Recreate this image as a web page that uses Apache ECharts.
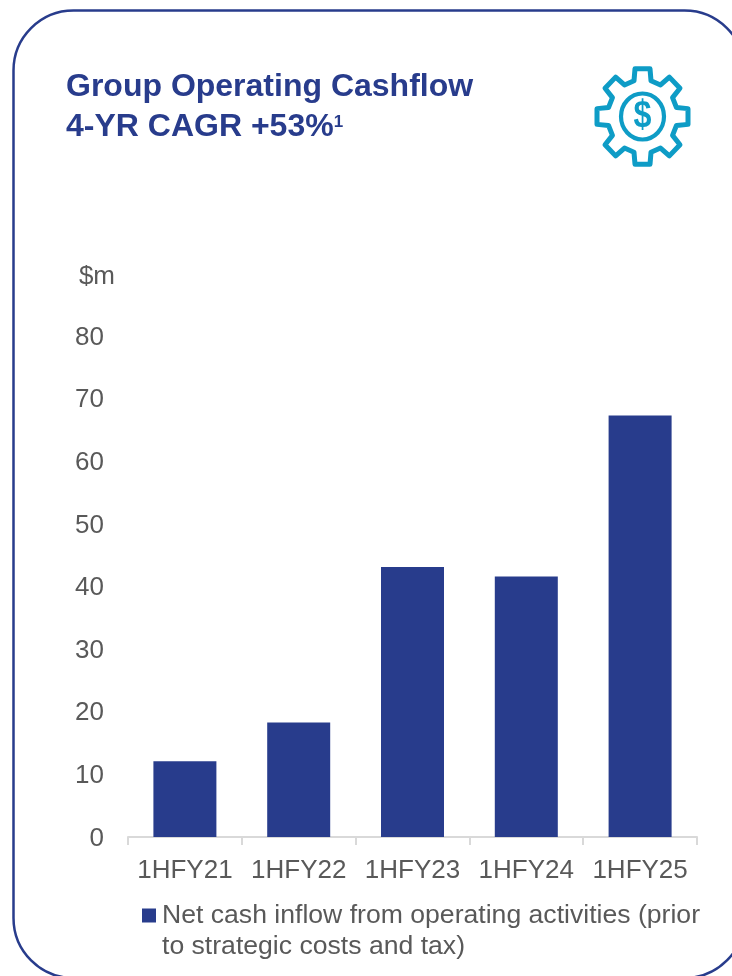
<!DOCTYPE html>
<html>
<head>
<meta charset="utf-8">
<style>html,body{margin:0;padding:0;background:#fff}#c{width:732px;height:976px}</style>
<script src="https://cdn.jsdelivr.net/npm/echarts@6/dist/echarts.min.js"></script>
</head>
<body>
<div id="c"></div>
<script>
const categories = ['1HFY21', '1HFY22', '1HFY23', '1HFY24', '1HFY25'];
const cashInflow = [12.1, 18.3, 43.1, 41.6, 67.3];
const seriesName = 'Net cash inflow from operating activities (prior\nto strategic costs and tax)';
const titleLines = ['Group Operating Cashflow', '4-YR CAGR +53%'];
const footnoteMark = '1';

function gearPoints(cx, cy) {
  const out = [];
  for (let i = 0; i < 8; i++) {
    const a = i * Math.PI / 4 - Math.PI / 2;
    const ux = Math.cos(a), uy = Math.sin(a), vx = -uy, vy = ux;
    [[34, -8.5], [45.5, -7.5], [45.5, 7.5], [34, 8.5]].forEach(function (p) {
      out.push([cx + ux * p[0] + vx * p[1], cy + 1.05 * (uy * p[0] + vy * p[1])]);
    });
  }
  return out;
}

const navy = '#283C8C', iconBlue = '#0E9CC6', grey = '#595959';
const font = '"Liberation Sans", Arial, sans-serif';
const chart = echarts.init(document.getElementById('c'), null, {renderer: 'canvas'});
chart.setOption({
  animation: false,
  backgroundColor: '#fff',
  textStyle: {fontFamily: font},
  title: {
    left: 61, top: 62,
    text: '{t|' + titleLines[0] + '}\n{t|' + titleLines[1] + '}{s|' + footnoteMark + '}',
    textStyle: {
      rich: {
        t: {fontSize: 32, fontWeight: 'bold', color: navy, lineHeight: 40, fontFamily: font},
        s: {fontSize: 17, fontWeight: 'bold', color: navy, verticalAlign: 'middle', padding: [0, 0, 10, 0], fontFamily: font}
      }
    }
  },
  grid: {left: 128, right: 35, top: 336, bottom: 139},
  legend: {
    left: 142, top: 868, padding: 0,
    itemWidth: 14, itemHeight: 14, itemGap: 0,
    icon: 'rect', selectedMode: false,
    formatter: function (n) { return ' \n' + n; },
    textStyle: {fontSize: 26.6, color: grey, lineHeight: 31, padding: [2, 0, 0, 1], fontFamily: font}
  },
  xAxis: {
    type: 'category',
    data: categories,
    axisLine: {lineStyle: {color: '#D9D9D9', width: 2}},
    axisTick: {show: true, length: 8, lineStyle: {color: '#D9D9D9', width: 2}},
    axisLabel: {color: grey, fontSize: 26, margin: 21, interval: 0}
  },
  yAxis: {
    type: 'value', min: 0, max: 80, interval: 10,
    name: '$m', nameLocation: 'end', nameGap: 46,
    nameTextStyle: {color: grey, fontSize: 26, align: 'right', padding: [0, 13, 0, 0]},
    axisLine: {show: false}, axisTick: {show: false},
    splitLine: {show: false},
    axisLabel: {color: grey, fontSize: 26, margin: 24, verticalAlign: 'top', lineHeight: 3}
  },
  series: [{
    name: seriesName,
    type: 'bar',
    data: cashInflow,
    barWidth: 63,
    itemStyle: {color: navy}
  }],
  graphic: [
    {type: 'rect', silent: true, z: -1,
      shape: {x: 13.5, y: 10.5, width: 731, height: 967.5, r: 60},
      style: {fill: 'none', stroke: navy, lineWidth: 2.5}},
    {type: 'polygon', silent: true,
      shape: {points: gearPoints(642.5, 116.5)},
      style: {fill: 'none', stroke: iconBlue, lineWidth: 5, lineJoin: 'round'}},
    {type: 'ellipse', silent: true,
      shape: {cx: 642.5, cy: 116.5, rx: 21.5, ry: 23},
      style: {fill: 'none', stroke: iconBlue, lineWidth: 4.2}},
    {type: 'text', silent: true, x: 642.5, y: 116.5, scaleX: 0.85,
      style: {x: 0, y: 0, text: '$', align: 'center', verticalAlign: 'middle',
        fontSize: 38, fontWeight: 'bold', fill: iconBlue, fontFamily: font}}
  ]
});
</script>
</body>
</html>
